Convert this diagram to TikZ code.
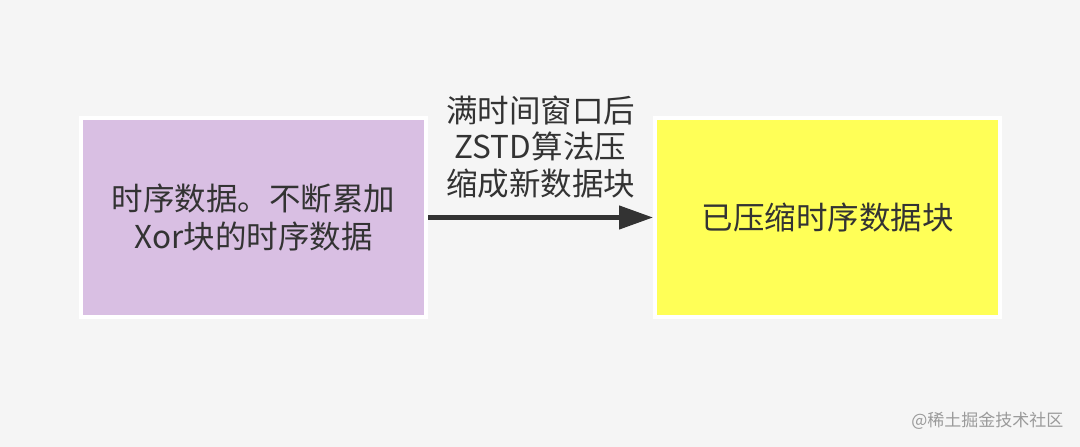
\documentclass[tikz,border=0pt]{standalone}
\usepackage{fontspec}
\setmainfont{Noto Sans CJK SC}
\usepackage{xcolor}
\usetikzlibrary{arrows.meta, positioning}

\definecolor{bgcol}{HTML}{F5F5F5}
\definecolor{purplebox}{HTML}{D9BFE3}
\definecolor{yellowbox}{HTML}{FFFF57}
\definecolor{textcol}{HTML}{333333}
\definecolor{markcol}{HTML}{9A9A9A}

\tikzset{
  blockbox/.style={draw=white, line width=4pt, minimum width=345pt, minimum height=199pt,
    align=center, text=textcol, font=\fontsize{31.5}{38}\selectfont},
}

\begin{document}
\begin{tikzpicture}[>={Triangle[length=34pt, width=23pt]}, x=1pt, y=1pt]
    \fill[bgcol] (0,0) rectangle (1080,447);
    \useasboundingbox (0,0) rectangle (1080,447);

    \node[blockbox, fill=purplebox] (series) at (253.5,229.5) {时序数据。不断累加\\Xor块的时序数据};
    \node[blockbox, fill=yellowbox, right=225pt of series] (packed) {已压缩时序数据块};

    \draw[->, line width=4.5pt, textcol] (series) -- (packed)
        node[midway, above=14pt, align=center, text=textcol, font=\fontsize{31.5}{36.5}\selectfont] (rule) {满时间窗口后\\ZSTD算法压\\缩成新数据块};

    \node[anchor=east, text=markcol, font=\fontsize{17}{20}\selectfont] (mark) at (1067,26) {@稀土掘金技术社区};
\end{tikzpicture}
\end{document}
